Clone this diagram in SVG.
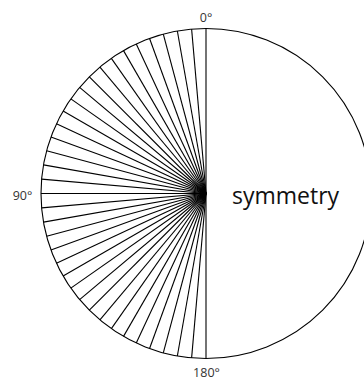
<svg xmlns="http://www.w3.org/2000/svg" width="364" height="381" viewBox="0 0 364 381">
<style>
.ln{stroke:#000;stroke-width:1.1;fill:none}
.lb{font-family:"Open Sans","DejaVu Sans",sans-serif;font-size:12.5px;fill:#333;text-anchor:middle}
.big{font-family:"Open Sans","DejaVu Sans",sans-serif;font-size:23px;fill:#111}
</style>
<rect width="364" height="381" fill="#fff"/>
<g id="circle"><circle class="ln" cx="206" cy="193.5" r="165"/></g>
<g id="spokes" class="ln">
<line x1="206" y1="193.5" x2="206.00" y2="28.50"/>
<line x1="206" y1="193.5" x2="191.62" y2="29.13"/>
<line x1="206" y1="193.5" x2="177.35" y2="31.01"/>
<line x1="206" y1="193.5" x2="163.29" y2="34.12"/>
<line x1="206" y1="193.5" x2="149.57" y2="38.45"/>
<line x1="206" y1="193.5" x2="136.27" y2="43.96"/>
<line x1="206" y1="193.5" x2="123.50" y2="50.61"/>
<line x1="206" y1="193.5" x2="111.36" y2="58.34"/>
<line x1="206" y1="193.5" x2="99.94" y2="67.10"/>
<line x1="206" y1="193.5" x2="89.33" y2="76.83"/>
<line x1="206" y1="193.5" x2="79.60" y2="87.44"/>
<line x1="206" y1="193.5" x2="70.84" y2="98.86"/>
<line x1="206" y1="193.5" x2="63.11" y2="111.00"/>
<line x1="206" y1="193.5" x2="56.46" y2="123.77"/>
<line x1="206" y1="193.5" x2="50.95" y2="137.07"/>
<line x1="206" y1="193.5" x2="46.62" y2="150.79"/>
<line x1="206" y1="193.5" x2="43.51" y2="164.85"/>
<line x1="206" y1="193.5" x2="41.63" y2="179.12"/>
<line x1="206" y1="193.5" x2="41.00" y2="193.50"/>
<line x1="206" y1="193.5" x2="41.63" y2="207.88"/>
<line x1="206" y1="193.5" x2="43.51" y2="222.15"/>
<line x1="206" y1="193.5" x2="46.62" y2="236.21"/>
<line x1="206" y1="193.5" x2="50.95" y2="249.93"/>
<line x1="206" y1="193.5" x2="56.46" y2="263.23"/>
<line x1="206" y1="193.5" x2="63.11" y2="276.00"/>
<line x1="206" y1="193.5" x2="70.84" y2="288.14"/>
<line x1="206" y1="193.5" x2="79.60" y2="299.56"/>
<line x1="206" y1="193.5" x2="89.33" y2="310.17"/>
<line x1="206" y1="193.5" x2="99.94" y2="319.90"/>
<line x1="206" y1="193.5" x2="111.36" y2="328.66"/>
<line x1="206" y1="193.5" x2="123.50" y2="336.39"/>
<line x1="206" y1="193.5" x2="136.27" y2="343.04"/>
<line x1="206" y1="193.5" x2="149.57" y2="348.55"/>
<line x1="206" y1="193.5" x2="163.29" y2="352.88"/>
<line x1="206" y1="193.5" x2="177.35" y2="355.99"/>
<line x1="206" y1="193.5" x2="191.62" y2="357.87"/>
<line x1="206" y1="193.5" x2="206.00" y2="358.50"/>
</g>
<g id="labels">
<text class="lb" x="206" y="22">0°</text>
<text class="lb" x="206.5" y="377">180°</text>
<text class="lb" x="22.5" y="200">90°</text>
<text class="big" x="232" y="204">symmetry</text>
</g>
</svg>
